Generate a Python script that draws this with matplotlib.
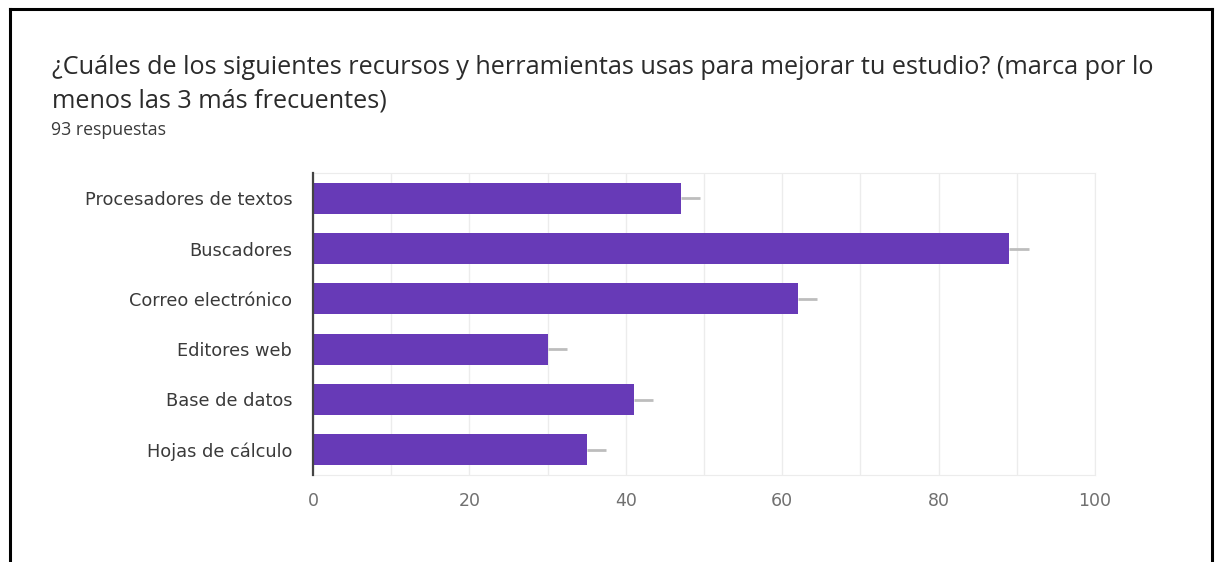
import matplotlib.pyplot as plt

categories = ["Procesadores de textos", "Buscadores", "Correo electrónico",
              "Editores web", "Base de datos", "Hojas de cálculo"]
values = [47, 89, 62, 30, 41, 35]
xticks = [0, 20, 40, 60, 80, 100]

title_lines = ["¿Cuáles de los siguientes recursos y herramientas usas para mejorar tu estudio? (marca por lo",
               "menos las 3 más frecuentes)"]
subtitle = "93 respuestas"

W, H = 1216, 562
fig = plt.figure(figsize=(W / 100, H / 100), dpi=100)

# black frame round the card (no bottom edge visible)
for xs, ys in [([10, 10], [9, 562]), ([10, 1212], [9, 9]), ([1212, 1212], [9, 562])]:
    fig.add_artist(plt.Line2D([x / W for x in xs], [1 - y / H for y in ys],
                              color="black", lw=2.2))

for line, base in zip(title_lines, [74, 107]):
    fig.text(52 / W, 1 - base / H, line, fontsize=18.2, family="Open Sans",
             color="#2b2b2b", va="baseline")
fig.text(51 / W, 1 - 135 / H, subtitle, fontsize=12.8, family="Open Sans",
         color="#3a3a3a", va="baseline")

left, right, top, bottom = 313, 1095, 173, 475
ax = fig.add_axes([left / W, 1 - bottom / H, (right - left) / W, (bottom - top) / H])

ypos = list(range(len(categories)))
ax.barh(ypos, values, height=0.62, color="#673ab7", zorder=3)
# little gray stubs past each bar end
ax.hlines(ypos, values, [v + 2.5 for v in values], color="#bdbdbd", lw=2, zorder=2)

ax.set_xlim(0, 100)
ax.set_ylim(len(categories) - 0.5, -0.5)
ax.set_yticks(ypos)
ax.set_yticklabels(categories, family="DejaVu Sans", fontsize=12.8, color="#3a3a3a")
ax.set_xticks(xticks)
ax.set_xticklabels([str(t) for t in xticks], family="DejaVu Sans", fontsize=12.5,
                   color="#707070")
ax.set_xticks(range(10, 100, 20), minor=True)
ax.tick_params(axis="both", length=0, which="both")
ax.tick_params(axis="x", pad=12)
ax.tick_params(axis="y", pad=15)
ax.grid(axis="x", which="both", color="#ececec", lw=1, zorder=0)

for s in ["top", "right", "bottom"]:
    ax.spines[s].set_color("#ececec")
ax.spines["left"].set_color("#444444")
ax.spines["left"].set_linewidth(1.6)
ax.spines["left"].set_zorder(4)

fig.savefig("out.png", dpi=100)
